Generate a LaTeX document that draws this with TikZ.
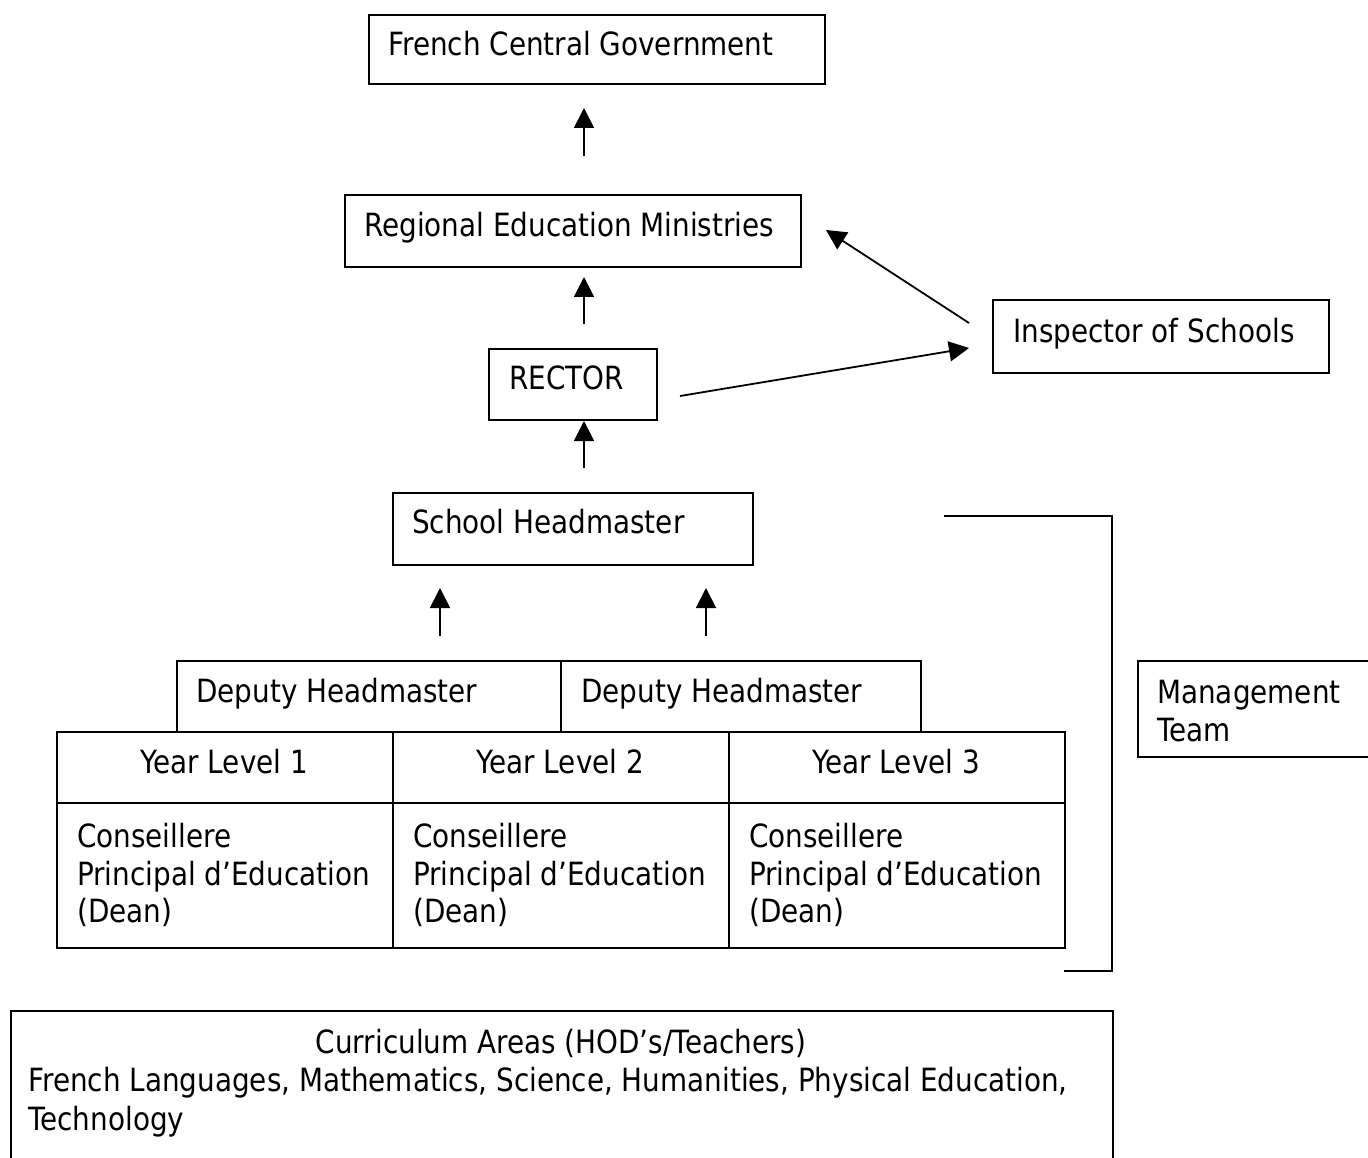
\documentclass[tikz,border=0pt]{standalone}
\usepackage{fontspec}
\setmainfont{DejaVu Sans}[FakeStretch=0.87]
\usetikzlibrary{arrows.meta}
\begin{document}
\begin{tikzpicture}[x=1pt,y=-1pt,
  box/.style={draw=black,line width=1.8pt,inner sep=0pt,anchor=north west,rectangle},
  txt/.style={inner sep=0pt,font=\fontsize{32}{38.5}\selectfont,align=left},
  arr/.style={line width=1.8pt,-{Triangle[length=20pt,width=20pt]}},
  ln/.style={line width=1.8pt}]
\useasboundingbox (0,0) rectangle (1368,1158);
% boxes
\node[box,minimum width=456pt,minimum height=69pt] (gov) at (368,14) {};
\node[txt,anchor=base west] (govt) at (388,56) {French Central Government};
\node[box,minimum width=456pt,minimum height=72pt] (reg) at (344,194) {};
\node[txt,anchor=base west] (regt) at (364,237) {Regional Education Ministries};
\node[box,minimum width=168pt,minimum height=71pt] (rec) at (488,348) {};
\node[txt,anchor=base west] (rect) at (509,389) {RECTOR};
\node[box,minimum width=336pt,minimum height=73pt] (insp) at (992,299) {};
\node[txt,anchor=base west] (inspt) at (1013,342) {Inspector of Schools};
\node[box,minimum width=360pt,minimum height=72pt] (head) at (392,492) {};
\node[txt,anchor=base west] (headt) at (412,533) {School Headmaster};
\node[box,minimum width=384pt,minimum height=71pt] (dep1) at (176,660) {};
\node[txt,anchor=base west] (dep1t) at (196,702) {Deputy Headmaster};
\node[box,minimum width=360pt,minimum height=71pt] (dep2) at (560,660) {};
\node[txt,anchor=base west] (dep2t) at (581,702) {Deputy Headmaster};
% year table
\foreach \i/\x in {1/56,2/392,3/728}{
  \node[box,minimum width=336pt,minimum height=71pt] (yl\i) at (\x,731) {};
  \node[txt,anchor=base] (yl\i t) at (\x+168,773) {Year Level \i};
  \node[box,minimum width=336pt,minimum height=145pt] (dn\i) at (\x,802) {};
  \node[txt,anchor=base west] (dn\i a) at (\x+21,847) {Conseillere};
  \node[txt,anchor=base west] (dn\i b) at (\x+21,885) {Principal d’Education};
  \node[txt,anchor=base west] (dn\i c) at (\x+21,922) {(Dean)};
}
% management team
\node[box,minimum width=260pt,minimum height=96pt] (mgmt) at (1137,660) {};
\node[txt,anchor=base west] (mgmta) at (1157,703) {Management};
\node[txt,anchor=base west] (mgmtb) at (1157,741) {Team};
% curriculum
\node[box,minimum width=1102pt,minimum height=170pt] (cur) at (10,1010) {};
\node[txt,anchor=base] (cura) at (561,1053) {Curriculum Areas (HOD’s/Teachers)};
\node[txt,anchor=base west] (curb) at (28,1091) {French Languages, Mathematics, Science, Humanities, Physical Education,};
\node[txt,anchor=base west] (curc) at (28,1130) {Technology};
% arrow coordinates
\coordinate (a1s) at (584,156); \coordinate (a1e) at (584,108);
\coordinate (a2s) at (584,324); \coordinate (a2e) at (584,277);
\coordinate (a3s) at (584,468); \coordinate (a3e) at (584,421);
\coordinate (a4s) at (440,636); \coordinate (a4e) at (440,588);
\coordinate (a5s) at (706,636); \coordinate (a5e) at (706,588);
\coordinate (d1s) at (680,396); \coordinate (d1e) at (969,348);
\coordinate (d2s) at (969,323); \coordinate (d2e) at (826,230);
\draw[arr] (a1s) -- (a1e);
\draw[arr] (a2s) -- (a2e);
\draw[arr] (a3s) -- (a3e);
\draw[arr] (a4s) -- (a4e);
\draw[arr] (a5s) -- (a5e);
\draw[arr] (d1s) -- (d1e);
\draw[arr] (d2s) -- (d2e);
% bracket
\coordinate (b1) at (944,516); \coordinate (b2) at (1112,516);
\coordinate (b3) at (1112,971); \coordinate (b4) at (1064,971);
\draw[ln] (b1) -- (b2) -- (b3) -- (b4);
\end{tikzpicture}
\end{document}
